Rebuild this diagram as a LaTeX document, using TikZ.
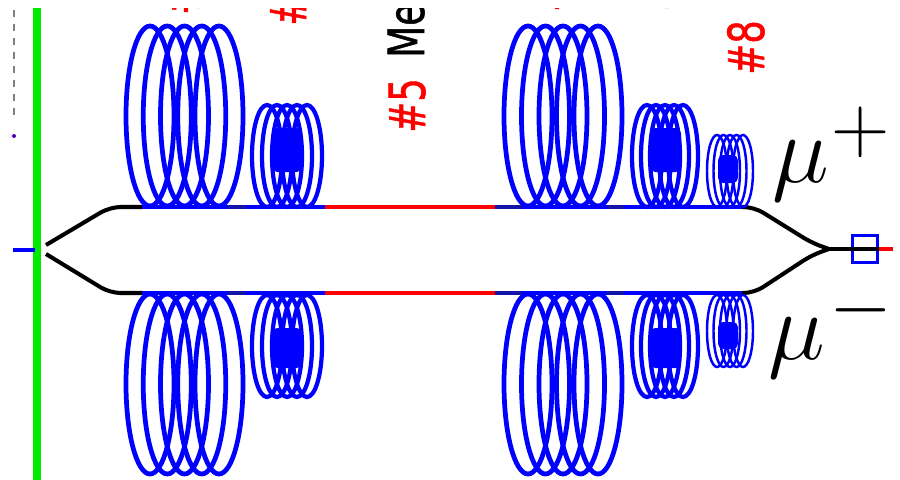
\documentclass[tikz,border=0pt]{standalone}
\usepackage{fontspec}
\usepackage{tikz}
\usetikzlibrary{positioning, calc}
\newfontfamily\labelfont[FakeBold=1.2]{DejaVu Sans}
\definecolor{coilblue}{RGB}{0, 0, 255}
\definecolor{beamred}{RGB}{255, 0, 0}
\definecolor{wallgreen}{RGB}{0, 235, 0}
\definecolor{darkfibre}{RGB}{20, 20, 170}
\tikzset{
  fibre/.style={line width=2.1pt, coilblue},
  hotfibre/.style={line width=2.4pt, beamred},
  armfibre/.style={line width=2.3pt, black, rounded corners=6pt},
  coilbig/.style={line width=2.7pt, coilblue},
  coilmid/.style={line width=2.4pt, coilblue},
  coilthin/.style={line width=1.4pt, coilblue},
  coilcore/.style={fill=coilblue, rounded corners=3pt},
  magnetlabel/.style={font=\labelfont\fontsize{21}{21}\selectfont, rotate=90, yscale=1.35, inner sep=0pt, anchor=base west},
  mulabel/.style={font=\Huge, scale=2.2, inner sep=0pt, anchor=base west},
  signlabel/.style={font=\Huge, scale=1.85, inner sep=0pt}
}
% first centre, step, last index, x radius, y radius, y centre, style
\newcommand{\coilstack}[7]{
  \foreach \idx in {0,...,#3}
    \draw[#7] ({#1+\idx*#2},#6) ellipse (#4 and #5);
}
\begin{document}
\begin{tikzpicture}[x=0.02cm, y=-0.02cm]
    \useasboundingbox (0,0) rectangle (900,480);
    \begin{scope}
      \clip (0,8) rectangle (900,480);
      \node[magnetlabel, text=beamred] (labelthree) at (198,15) {\#3};
      \node[magnetlabel, text=beamred] (labelfour) at (306,26) {\#4};
      \node[magnetlabel, text=beamred] (labelfive) at (425,133) {\#5};
      \node[magnetlabel, text=black] (labelmeson) at (424,58) {Me};
      \node[magnetlabel, text=beamred] (labelsix) at (569,12) {\#6};
      \node[magnetlabel, text=beamred] (labelseven) at (679,11) {\#7};
      \node[magnetlabel, text=beamred] (labeleight) at (764,75) {\#8};
    \end{scope}

    \coordinate (dotsTop) at (14,10);
    \coordinate (dotsEnd) at (14,116);
    \coordinate (dotBlue) at (14,136);
    \draw[gray, line width=0.9pt, dash pattern=on 4pt off 4pt] (dotsTop) -- (dotsEnd);
    \fill[blue!70!red] (dotBlue) circle (2);

    \coordinate (wallTop) at (37,8);
    \coordinate (wallEnd) at (37,480);
    \draw[wallgreen, line width=4pt] (wallTop) -- (wallEnd);
    \coordinate (stubIn) at (13,250);
    \coordinate (stubOut) at (35,250);
    \draw[fibre] (stubIn) -- (stubOut);

    \coordinate (armJoin) at (829,249);
    \foreach \arm/\ytrack/\ysplit/\ymerge in {up/207/245/243, low/293/254/255} {
      \coordinate (\arm Tip) at (46,\ysplit);
      \coordinate (\arm Bend) at (110,\ytrack);
      \coordinate (\arm CoilA) at (142,\ytrack);
      \coordinate (\arm HotA) at (325,\ytrack);
      \coordinate (\arm HotB) at (495,\ytrack);
      \coordinate (\arm CoilB) at (742,\ytrack);
      \coordinate (\arm Exit) at (754,\ytrack);
      \coordinate (\arm Merge) at (812,\ymerge);
      \coordinate (\arm DarkA) at (228,\ytrack);
      \coordinate (\arm DarkB) at (246,\ytrack);
      \coordinate (\arm DarkC) at (522,\ytrack);
      \coordinate (\arm DarkD) at (607,\ytrack);
      \coordinate (\arm DarkE) at (624,\ytrack);
      \draw[armfibre] (\arm Tip) -- (\arm Bend) -- (\arm CoilA);
      \draw[armfibre] (\arm CoilB) -- (\arm Exit) -- (\arm Merge) -- (armJoin);
      \draw[fibre] (\arm CoilA) -- (\arm HotA);
      \draw[hotfibre] (\arm HotA) -- (\arm HotB);
      \draw[fibre] (\arm HotB) -- (\arm CoilB);
      \draw[fibre, darkfibre] (\arm DarkA) -- (\arm DarkB);
      \draw[fibre, darkfibre] (\arm HotB) -- (\arm DarkC);
      \draw[fibre, darkfibre] (\arm DarkD) -- (\arm DarkE);
    }

    \foreach \cy in {116,384} {
      \coilstack{150}{17.25}{4}{24}{90}{\cy}{coilbig}
      \coilstack{528}{17.5}{4}{24}{90}{\cy}{coilbig}
    }
    \foreach \cy/\ctop/\cend in {156/128/172, 346/328/368} {
      \coilstack{267}{10}{4}{15}{51}{\cy}{coilmid}
      \coilstack{647}{9}{4}{15}{51}{\cy}{coilmid}
      \fill[coilcore] (272,\ctop) rectangle (302,\cend);
      \fill[coilcore] (650,\ctop) rectangle (681,\cend);
    }
    \foreach \cy/\ctop/\cend in {171/155/183, 331/322/349} {
      \coilstack{717}{6.5}{4}{10}{36}{\cy}{coilthin}
      \fill[coilcore] (718,\ctop) rectangle (738,\cend);
    }

    \coordinate (tailEnd) at (893,249);
    \node[draw=coilblue, line width=2pt, minimum width=0.5cm, minimum height=0.54cm, inner sep=0pt] (detbox) at (865,249) {};
    \draw[line width=2.2pt, black] (armJoin) -- (detbox.east);
    \draw[hotfibre] (detbox.east) -- (tailEnd);

    \node[mulabel] (muplus) at (772,182) {$\mu$};
    \node[mulabel] (muminus) at (768,359) {$\mu$};
    \node[signlabel] (plussign) at (861,132) {$+$};
    \node[signlabel] (minussign) at (861,310) {$-$};
  \end{tikzpicture}
\end{document}
